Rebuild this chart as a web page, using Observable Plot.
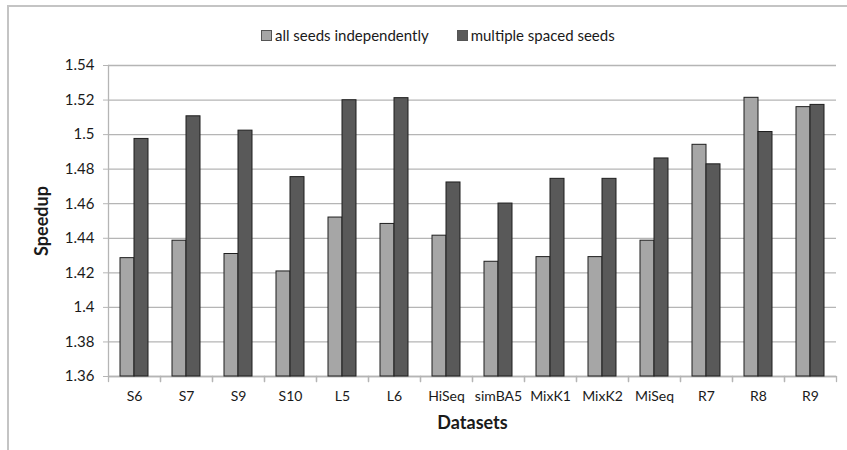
<!DOCTYPE html>
<html>
<head>
<meta charset="utf-8">
<script src="https://cdn.jsdelivr.net/npm/d3@7"></script>
<script src="https://cdn.jsdelivr.net/npm/@observablehq/plot@0.6"></script>
<style>
  html, body { margin: 0; padding: 0; background: #fff; }
  #wrap { position: relative; width: 847px; height: 450px; overflow: hidden; font-family: Lato, "Open Sans", sans-serif; }
  #border { position: absolute; left: 7px; top: 5px; right: -5px; bottom: -5px; border-top: 2px solid #c4c4c4; border-left: 2px solid #c4c4c4; }
  #legend { position: absolute; top: 26px; left: 261px; display: flex; align-items: center; font-size: 15px; color: #1a1a1a; white-space: nowrap; }
  #legend .item { display: flex; align-items: center; }
  #legend .sw { width: 9px; height: 9px; border: 1px solid #555; margin-right: 3px; }
  #chart { position: absolute; left: 0; top: 0; }
  #chart svg text { fill: #1a1a1a; }
  g[aria-label="y-axis label"] text, g[aria-label="fx-axis label"] text { font-weight: bold; font-size: 18px; }
  g[aria-label="y-axis tick label"] text { font-size: 15px; }
</style>
</head>
<body>
<div id="wrap">
  <div id="border"></div>
  <div id="legend"></div>
  <div id="chart"></div>
</div>
<script>
const categories = ["S6", "S7", "S9", "S10", "L5", "L6", "HiSeq", "simBA5", "MixK1", "MixK2", "MiSeq", "R7", "R8", "R9"];
const allSeeds   = [1.4285, 1.4386, 1.4309, 1.4208, 1.4520, 1.4483, 1.4415, 1.4264, 1.4291, 1.4291, 1.4386, 1.4941, 1.5213, 1.5159];
const multiSeeds = [1.4975, 1.5106, 1.5023, 1.4754, 1.5199, 1.5211, 1.4723, 1.4601, 1.4744, 1.4744, 1.4862, 1.4828, 1.5015, 1.5172];
const seriesNames = ["all seeds independently", "multiple spaced seeds"];
const seriesColors = ["#a6a6a6", "#595959"];
const yTicks = [1.36, 1.38, 1.40, 1.42, 1.44, 1.46, 1.48, 1.50, 1.52, 1.54];

const rows = categories.flatMap((c, i) => [
  {cat: c, series: seriesNames[0], value: allSeeds[i]},
  {cat: c, series: seriesNames[1], value: multiSeeds[i]}
]);

const legend = document.getElementById("legend");
seriesNames.forEach((s, i) => {
  const item = document.createElement("div");
  item.className = "item";
  if (i > 0) item.style.marginLeft = "28px";
  const sw = document.createElement("span");
  sw.className = "sw";
  sw.style.background = seriesColors[i];
  const t = document.createElement("span");
  t.textContent = s;
  item.append(sw, t);
  legend.append(item);
});

const W = 847, H = 450, mL = 102, mR = 5, mT = 65, mB = 74;
const plotH = H - mT - mB;
const gridColor = "#b5b5b5";
const lineShape = {draw(context, l) { context.moveTo(0, 0); context.lineTo(0, -l); }};

const chart = Plot.plot({
  width: W, height: H, marginLeft: mL, marginRight: mR, marginTop: mT, marginBottom: mB,
  style: {fontFamily: "Lato, 'Open Sans', sans-serif", fontSize: "14px", background: "transparent", overflow: "visible"},
  fx: {domain: categories, padding: 0, label: null},
  x: {domain: seriesNames, paddingInner: 0, paddingOuter: 0.76, axis: null},
  y: {domain: [yTicks[0], yTicks[yTicks.length - 1]], label: null},
  color: {domain: seriesNames, range: seriesColors},
  marks: [
    Plot.gridY({ticks: yTicks, stroke: gridColor, strokeOpacity: 1, strokeWidth: 1.3}),
    Plot.ruleY([yTicks[0]], {stroke: gridColor, strokeWidth: 1.3}),
    Plot.vector([0], {frameAnchor: "bottom-left", length: 5, rotate: 180, anchor: "start", shape: lineShape, stroke: gridColor, strokeWidth: 1.3}),
    Plot.vector([0], {frameAnchor: "bottom-right", length: 5, rotate: 180, anchor: "start", shape: lineShape, stroke: gridColor, strokeWidth: 1.3}),
    Plot.vector([0], {facetAnchor: "left", frameAnchor: "bottom-left", length: plotH, rotate: 0, anchor: "start", shape: lineShape, stroke: gridColor, strokeWidth: 1.3}),
    Plot.barY(rows, {fx: "cat", x: "series", y1: () => yTicks[0], y2: "value", fill: "series", stroke: "#1e1e1e", strokeWidth: 1}),
    Plot.axisY({
      ticks: yTicks, tickSize: 5, tickPadding: 9, stroke: gridColor,
      tickFormat: d => String(+d.toFixed(2)),
      label: "Speedup", labelAnchor: "center", labelArrow: "none", labelOffset: 73
    }),
    Plot.axisFx({
      tickSize: 0, tickPadding: 15, anchor: "bottom",
      label: "Datasets", labelAnchor: "center", labelArrow: "none", labelOffset: 52
    })
  ]
});
document.getElementById("chart").append(chart);
</script>
</body>
</html>
